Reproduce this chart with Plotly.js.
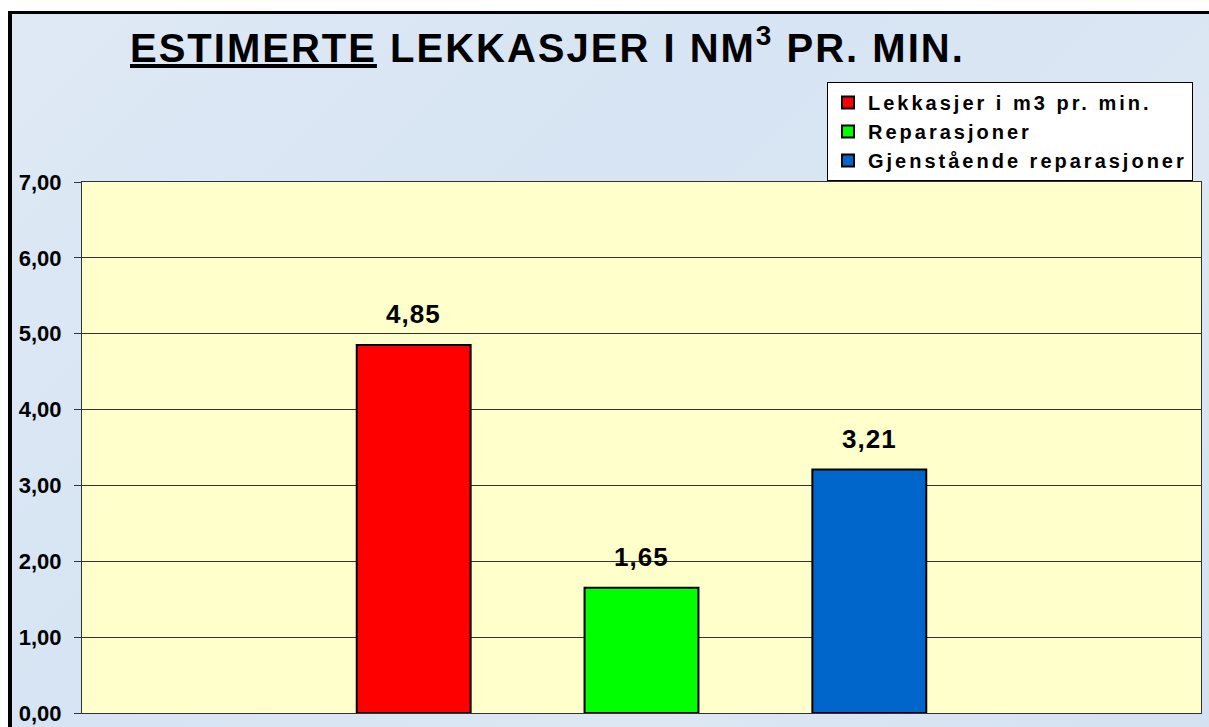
<!DOCTYPE html>
<html>
<head>
<meta charset="utf-8">
<script src="https://cdn.plot.ly/plotly-3.0.1.min.js"></script>
<style>
  html, body { margin: 0; padding: 0; background: #ffffff; }
  #bg {
    position: absolute; left: 8px; top: 11px; width: 1201px; height: 716px;
    border-left: 4px solid #000; border-top: 3px solid #000;
    background: linear-gradient(135deg, #dfe9f5 0%, #d6e4f3 40%, #dde7f4 70%, #d3e1f1 100%);
  }
  #chart { position: absolute; left: 0; top: 0; width: 1209px; height: 727px; }
  .gtitle { letter-spacing: 2px; }
  .legendtext { letter-spacing: 3px; }
  .annotation-text { letter-spacing: 1px; }
</style>
</head>
<body>
<div id="bg"></div>
<div id="chart"></div>
<script>
// ---- data ----
const seriesNames = ["Lekkasjer i m3 pr. min.", "Reparasjoner", "Gjenstående reparasjoner"];
const seriesValues = [4.85, 1.65, 3.21];
const seriesColors = ["#ff0000", "#00ff00", "#0066cc"];
const yTickValues = [0, 1, 2, 3, 4, 5, 6, 7];

const traces = seriesNames.map((name, i) => ({
  type: "bar",
  name: name,
  x: [name],
  y: [seriesValues[i]],
  width: 0.5,
  marker: { color: seriesColors[i], line: { color: "#000000", width: 2 } },
  hoverinfo: "y+name"
}));

const annotations = seriesNames.map((name, i) => ({
  x: name, y: seriesValues[i], xref: "x", yref: "y",
  text: "<b>" + seriesValues[i].toFixed(2).replace(".", ",") + "</b>",
  showarrow: false, yanchor: "middle", yshift: 31,
  font: { family: "Liberation Sans, Arial, sans-serif", size: 26, color: "#000" }
}));

const layout = {
  width: 1209, height: 727,
  paper_bgcolor: "rgba(0,0,0,0)",
  plot_bgcolor: "#ffffcc",
  separators: ", ",
  margin: { l: 82, r: 8, t: 182, b: 14, pad: 0 },
  showlegend: true,
  barmode: "overlay",
  title: {
    text: "<b><span style=\"text-decoration:underline\">ESTIMERTE</span> LEKKASJER I NM<sup>3</sup> PR. MIN.</b>",
    xref: "container", yref: "container",
    x: 130 / 1209, xanchor: "left",
    y: 1 - 48 / 727, yanchor: "middle",
    font: { family: "Liberation Sans, Arial, sans-serif", size: 40, color: "#000" }
  },
  legend: {
    x: (827 - 82) / 1119, xanchor: "left",
    y: (713 - 82) / 531, yanchor: "top",
    bgcolor: "#ffffff", bordercolor: "#000000", borderwidth: 1,
    font: { family: "Liberation Sans, Arial, sans-serif", size: 20, color: "#000", weight: "bold" },
    tracegroupgap: 0
  },
  xaxis: {
    type: "category",
    range: [-1.456, 2 + 1.456],
    showticklabels: false, ticks: "",
    showgrid: false, zeroline: false,
    showline: true, linecolor: "#333333", linewidth: 1, mirror: true,
    fixedrange: true
  },
  yaxis: {
    range: [0, 7],
    tickvals: yTickValues,
    tickformat: ".2f",
    ticks: "outside", ticklen: 7, tickcolor: "#333333", tickwidth: 1,
    ticklabelstandoff: 8,
    showgrid: true, gridcolor: "#333333", gridwidth: 1,
    zeroline: false,
    showline: true, linecolor: "#333333", linewidth: 1, mirror: true,
    tickfont: { family: "Liberation Sans, Arial, sans-serif", size: 22, color: "#000", weight: "bold" },
    fixedrange: true
  },
  annotations: annotations
};

Plotly.newPlot("chart", traces, layout, { displayModeBar: false, staticPlot: true });
</script>
</body>
</html>
